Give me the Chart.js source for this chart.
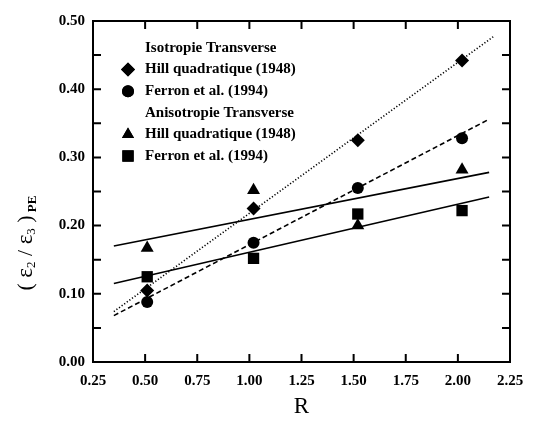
<!DOCTYPE html>
<html>
<head>
<meta charset="utf-8">
<script src="https://cdn.jsdelivr.net/npm/chart.js@4/dist/chart.umd.min.js"></script>
<style>
  html, body { margin: 0; padding: 0; background: #fff; }
  #wrap { width: 536px; height: 421px; }
</style>
</head>
<body>
<div id="wrap"><canvas id="graf" width="536" height="421"></canvas></div>
<script>
// valeurs
const rValues = [0.51, 1.02, 1.52, 2.02];
const isoHill = [0.105, 0.225, 0.325, 0.442];
const isoFerron = [0.088, 0.175, 0.255, 0.328];
const anisoHill = [0.167, 0.252, 0.200, 0.282];
const anisoFerron = [0.125, 0.152, 0.217, 0.222];

// droites de regression (extremites)
const fitIsoHillX = [0.35, 2.17];
const fitIsoHillY = [0.074, 0.477];
const fitIsoFerronX = [0.35, 2.15];
const fitIsoFerronY = [0.068, 0.356];
const fitAnisoHillX = [0.35, 2.15];
const fitAnisoHillY = [0.170, 0.278];
const fitAnisoFerronX = [0.35, 2.15];
const fitAnisoFerronY = [0.115, 0.242];

const xTicks = [0.25, 0.50, 0.75, 1.00, 1.25, 1.50, 1.75, 2.00, 2.25];
const yTicks = [0.00, 0.10, 0.20, 0.30, 0.40, 0.50];
const yMinorTicks = [0.05, 0.15, 0.25, 0.35, 0.45];

const legendRows = [
    { text: 'Isotropie Transverse' },
    { text: 'Hill quadratique (1948)', style: 'rectRot', radius: 7 },
    { text: 'Ferron et al. (1994)', style: 'circle', radius: 6 },
    { text: 'Anisotropie Transverse' },
    { text: 'Hill quadratique (1948)', style: 'triangle', radius: 7 },
    { text: 'Ferron et al. (1994)', style: 'rect', radius: 8 }
];

const serif = '"Liberation Serif", "DejaVu Serif", serif';

function pts(xs, ys) {
    return xs.map((x, i) => ({ x: x, y: ys[i] }));
}

function pointSet(label, ys, style, radius) {
    return {
        label: label,
        data: pts(rValues, ys),
        showLine: false,
        pointStyle: style,
        pointRadius: radius,
        pointBackgroundColor: '#000',
        pointBorderColor: '#000',
        pointBorderWidth: 0
    };
}

function lineSet(label, xs, ys, dash) {
    return {
        label: label,
        data: pts(xs, ys),
        showLine: true,
        borderColor: '#000',
        borderWidth: 1.6,
        borderDash: dash,
        pointRadius: 0,
        fill: false
    };
}

// cadre, graduations internes, legende et titre de l'axe y
const decorPlugin = {
    id: 'decor',
    afterDraw(chart) {
        const ctx = chart.ctx;
        const a = chart.chartArea;
        const xs = chart.scales.x;
        const ys = chart.scales.y;
        ctx.save();
        ctx.strokeStyle = '#000';
        ctx.lineWidth = 2;
        ctx.strokeRect(a.left, a.top, a.right - a.left, a.bottom - a.top);

        ctx.lineWidth = 2;
        ctx.beginPath();
        xTicks.forEach(v => {
            const px = xs.getPixelForValue(v);
            ctx.moveTo(px, a.bottom); ctx.lineTo(px, a.bottom - 8);
            ctx.moveTo(px, a.top); ctx.lineTo(px, a.top + 8);
        });
        yTicks.concat(yMinorTicks).forEach(v => {
            const py = ys.getPixelForValue(v);
            ctx.moveTo(a.left, py); ctx.lineTo(a.left + 8, py);
            ctx.moveTo(a.right, py); ctx.lineTo(a.right - 8, py);
        });
        ctx.stroke();

        // legende
        ctx.fillStyle = '#000';
        ctx.textBaseline = 'middle';
        ctx.textAlign = 'left';
        ctx.font = 'bold 15px ' + serif;
        legendRows.forEach((row, i) => {
            const y = 48 + i * 21.6;
            if (row.style) {
                Chart.helpers.drawPoint(ctx, {
                    pointStyle: row.style, radius: row.radius, rotation: 0, borderWidth: 0
                }, 128, y);
                ctx.fill();
            }
            ctx.fillText(row.text, 145, y);
        });

        // titre y : ( e2 / e3 )PE
        ctx.translate(26, 243);
        ctx.rotate(-Math.PI / 2);
        const parts = [
            { t: '( ', f: '22px ' + serif, dy: 0 },
            { t: 'ε', f: '23px ' + serif, dy: 0 },
            { t: '2', f: '13px ' + serif, dy: 6 },
            { t: ' / ', f: '22px ' + serif, dy: 0 },
            { t: 'ε', f: '23px ' + serif, dy: 0 },
            { t: '3', f: '13px ' + serif, dy: 6 },
            { t: ' )', f: '22px ' + serif, dy: 0 },
            { t: ' PE', f: 'bold 13px ' + serif, dy: 7 }
        ];
        let total = 0;
        parts.forEach(p => { ctx.font = p.f; total += ctx.measureText(p.t).width; });
        let cx = -total / 2;
        parts.forEach(p => {
            ctx.font = p.f;
            ctx.fillText(p.t, cx, p.dy);
            cx += ctx.measureText(p.t).width;
        });
        ctx.restore();
    }
};

const ctx = document.getElementById('graf').getContext('2d');
new Chart(ctx, {
    type: 'scatter',
    data: {
        datasets: [
            lineSet('fit iso Hill', fitIsoHillX, fitIsoHillY, [1.2, 2]),
            lineSet('fit iso Ferron', fitIsoFerronX, fitIsoFerronY, [5, 3]),
            lineSet('fit aniso Hill', fitAnisoHillX, fitAnisoHillY, []),
            lineSet('fit aniso Ferron', fitAnisoFerronX, fitAnisoFerronY, []),
            pointSet('Hill quadratique (1948) iso', isoHill, 'rectRot', 7),
            pointSet('Ferron et al. (1994) iso', isoFerron, 'circle', 6),
            pointSet('Hill quadratique (1948) aniso', anisoHill, 'triangle', 7.5),
            pointSet('Ferron et al. (1994) aniso', anisoFerron, 'rect', 8)
        ]
    },
    options: {
        responsive: false,
        animation: false,
        layout: { padding: { left: 0, right: 26, top: 21, bottom: 0 } },
        plugins: {
            legend: { display: false },
            tooltip: { enabled: false },
            title: { display: false }
        },
        scales: {
            x: {
                type: 'linear',
                min: 0.25,
                max: 2.25,
                afterBuildTicks: s => { s.ticks = xTicks.map(v => ({ value: v })); },
                afterFit: s => { s.height = 59; },
                grid: { display: false, drawTicks: false },
                border: { display: false },
                ticks: {
                    padding: 10,
                    color: '#000',
                    font: { family: serif, size: 15, weight: 'bold' },
                    callback: v => v.toFixed(2),
                    maxRotation: 0
                },
                title: {
                    display: true,
                    text: 'R',
                    color: '#000',
                    font: { family: serif, size: 23 },
                    padding: { top: 6, bottom: 0 }
                }
            },
            y: {
                type: 'linear',
                min: 0,
                max: 0.5,
                afterBuildTicks: s => { s.ticks = yTicks.map(v => ({ value: v })); },
                afterFit: s => { s.width = 93; },
                grid: { display: false, drawTicks: false },
                border: { display: false },
                ticks: {
                    padding: 8,
                    color: '#000',
                    font: { family: serif, size: 15, weight: 'bold' },
                    callback: v => v.toFixed(2)
                }
            }
        }
    },
    plugins: [decorPlugin]
});
</script>
</body>
</html>
